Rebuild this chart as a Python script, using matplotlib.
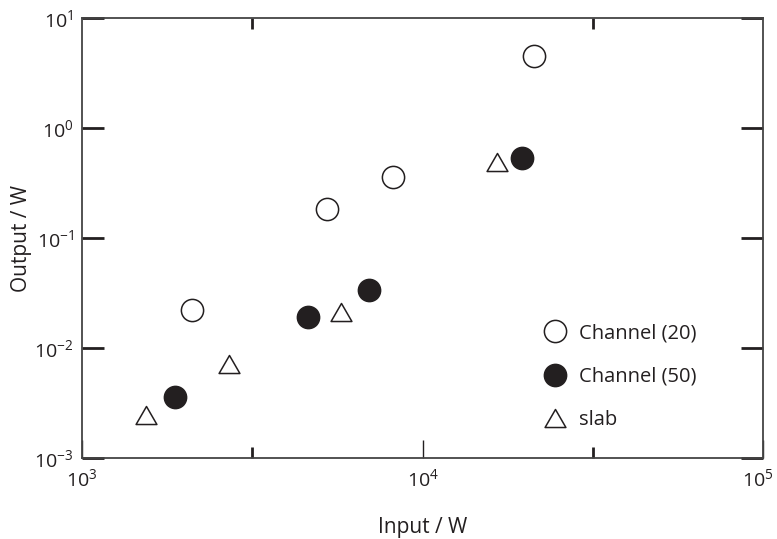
import matplotlib
matplotlib.use('Agg')
import matplotlib.pyplot as plt
from matplotlib.path import Path
from matplotlib.ticker import FixedLocator, NullLocator
from matplotlib.transforms import ScaledTranslation

plt.rcParams['font.family'] = ['Open Sans', 'DejaVu Sans']
plt.rcParams['mathtext.fontset'] = 'custom'
plt.rcParams['mathtext.rm'] = 'Open Sans'

# data
ch20_in = [2100, 5250, 8200, 21200]
ch20_out = [0.0223, 0.184, 0.361, 4.5]

ch50_in = [1870, 4600, 6980, 19600]
ch50_out = [0.00355, 0.0193, 0.0336, 0.53]

slab_in = [1540, 2700, 5770, 16600]
slab_out = [0.00244, 0.0072, 0.0214, 0.49]

xticks = [1e3, 1e4, 1e5]
xlabels = ['$\\mathregular{10^{3}}$', '$\\mathregular{10^{4}}$', '$\\mathregular{10^{5}}$']
yticks = [1e-3, 1e-2, 1e-1, 1e0, 1e1]
ylabels = ['$\\mathregular{10^{-3}}$', '$\\mathregular{10^{-2}}$', '$\\mathregular{10^{-1}}$',
           '$\\mathregular{10^{0}}$', '$\\mathregular{10^{1}}$']

ink = '#231f20'
# equilateral-ish open triangle, centred on its box
tri = Path([(-1, -0.866), (1, -0.866), (0, 0.866), (-1, -0.866)], closed=True)

fig = plt.figure(figsize=(7.77, 5.39), dpi=100)
ax = fig.add_axes([82/777, 1 - 458/539, (763-82)/777, (458-18)/539])

ax.plot(ch20_in, ch20_out, 'o', ls='none', ms=16, mfc='white', mec=ink, mew=1.1,
        label='Channel (20)')
ax.plot(ch50_in, ch50_out, 'o', ls='none', ms=16, mfc=ink, mec=ink, mew=1.1,
        label='Channel (50)')
ax.plot(slab_in, slab_out, marker=tri, ls='none', ms=15, mfc='white', mec=ink, mew=1.1,
        label='slab')

ax.set_xscale('log')
ax.set_yscale('log')
ax.set_xlim(1e3, 1e5)
ax.set_ylim(1e-3, 1e1)

ax.xaxis.set_major_locator(FixedLocator(xticks))
ax.set_xticklabels(xlabels)
ax.xaxis.set_minor_locator(FixedLocator([10**3.5, 10**4.5]))
ax.yaxis.set_major_locator(FixedLocator(yticks))
ax.set_yticklabels(ylabels)
ax.yaxis.set_minor_locator(NullLocator())

ax.tick_params(axis='x', which='major', direction='in', length=13, width=1,
               colors=ink, labelsize=14, pad=7, top=False)
ax.tick_params(axis='x', which='minor', direction='in', length=8, width=2,
               colors=ink, top=True, bottom=True)
ax.tick_params(axis='y', which='major', direction='in', length=16, width=2,
               colors=ink, labelsize=14, pad=6, right=True)

# keep the 10^5 label inside the figure
last = ax.get_xticklabels()[-1]
last.set_transform(last.get_transform() + ScaledTranslation(-5/100, 0, fig.dpi_scale_trans))

for s in ax.spines.values():
    s.set_color('#444444')
    s.set_linewidth(1.3)

ax.set_xlabel('Input / W', fontsize=15, color=ink, labelpad=20)
ax.set_ylabel('Output / W', fontsize=15, color=ink, labelpad=2)

ax.legend(loc='center', bbox_to_anchor=(0.79, 0.185), frameon=False, fontsize=14.5,
          handlelength=1.2, handletextpad=0.6, labelspacing=1.15, numpoints=1,
          labelcolor=ink)

fig.savefig('out.png', dpi=100)
